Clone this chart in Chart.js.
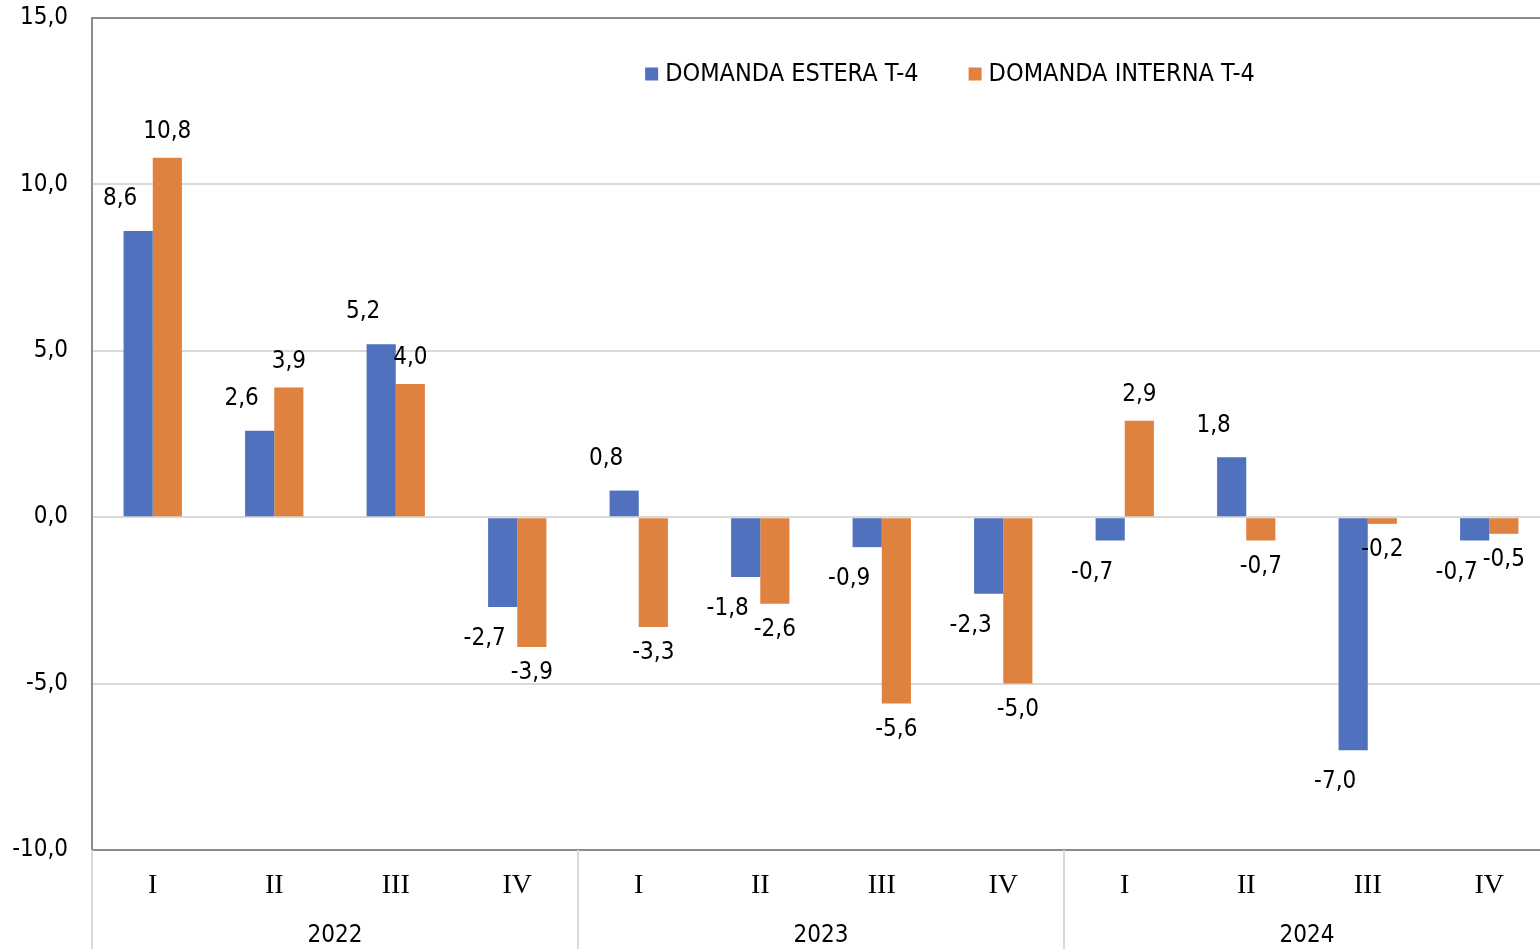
<!DOCTYPE html>
<html>
<head>
<meta charset="utf-8">
<script src="https://cdn.jsdelivr.net/npm/chart.js@4"></script>
<style>
html,body{margin:0;padding:0;background:#fff;overflow:hidden;}
#wrap{width:1552px;height:949px;position:relative;}
</style>
</head>
<body>
<div id="wrap"><canvas id="c" width="1552" height="949"></canvas></div>
<script>
const quarters = ["I","II","III","IV","I","II","III","IV","I","II","III","IV"];
const years = ["2022","2023","2024"];
const domandaEstera = [8.6, 2.6, 5.2, -2.7, 0.8, -1.8, -0.9, -2.3, -0.7, 1.8, -7.0, -0.7];
const domandaInterna = [10.8, 3.9, 4.0, -3.9, -3.3, -2.6, -5.6, -5.0, 2.9, -0.7, -0.2, -0.5];
const seriesNames = ["DOMANDA ESTERA T-4", "DOMANDA INTERNA T-4"];
const yTicks = [-10, -5, 0, 5, 10, 15];

const SANS = '"DejaVu Sans Condensed", "Liberation Sans", Arial, sans-serif';
const SERIF = '"Liberation Serif", "Times New Roman", serif';
const BLUE = '#4F71BE';
const ORANGE = '#E0823F';
const fmt = v => v.toFixed(1).replace('.', ',');

const labelPlugin = {
  id: 'valueLabels',
  afterDatasetsDraw(chart) {
    const ctx = chart.ctx;
    ctx.save();
    ctx.font = '24px ' + SANS;
    ctx.fillStyle = '#000';
    ctx.textAlign = 'center';
    ctx.textBaseline = 'middle';
    chart.data.datasets.forEach((ds, i) => {
      const meta = chart.getDatasetMeta(i);
      meta.data.forEach((el, j) => {
        const v = ds.data[j];
        const dx = i === 0 ? -18 : 0;
        const off = i === 0 ? 32 : 26;
        const y = v >= 0 ? el.y - off : el.y + off;
        ctx.fillText(fmt(v), el.x + dx, y);
      });
    });
    ctx.restore();
  }
};

const legendPlugin = {
  id: 'inLegend',
  afterDraw(chart) {
    const ctx = chart.ctx;
    ctx.save();
    ctx.font = '25px ' + SANS;
    ctx.textBaseline = 'middle';
    ctx.textAlign = 'left';
    const colors = [BLUE, ORANGE];
    const sq = 13, gap = 7, between = 50;
    const widths = seriesNames.map(t => ctx.measureText(t).width);
    const total = widths.reduce((a, w) => a + sq + gap + w, 0) + between;
    let x = 950 - total / 2;
    const y = 74;
    seriesNames.forEach((t, i) => {
      ctx.fillStyle = colors[i];
      ctx.fillRect(x, y - sq / 2, sq, sq);
      ctx.fillStyle = '#000';
      ctx.fillText(t, x + sq + gap, y);
      x += sq + gap + widths[i] + between;
    });
    ctx.restore();
  }
};

const groupPlugin = {
  id: 'yearGroups',
  afterDraw(chart) {
    const ctx = chart.ctx;
    const area = chart.chartArea;
    const n = quarters.length;
    const per = n / years.length;
    const step = (area.right - area.left) / n;
    ctx.save();
    ctx.strokeStyle = '#d9d9d9';
    ctx.lineWidth = 2;
    for (let g = 0; g < years.length; g++) {
      const x0 = area.left + g * per * step;
      ctx.beginPath();
      ctx.moveTo(x0, area.bottom);
      ctx.lineTo(x0, chart.height);
      ctx.stroke();
    }
    ctx.font = '24px ' + SANS;
    ctx.fillStyle = '#000';
    ctx.textAlign = 'center';
    ctx.textBaseline = 'middle';
    years.forEach((yr, g) => {
      const cx = area.left + (g * per + per / 2) * step;
      ctx.fillText(yr, cx, 936);
    });
    ctx.restore();
  }
};

new Chart(document.getElementById('c'), {
  type: 'bar',
  data: {
    labels: quarters,
    datasets: [
      { label: seriesNames[0], data: domandaEstera, backgroundColor: BLUE, borderWidth: 0 },
      { label: seriesNames[1], data: domandaInterna, backgroundColor: ORANGE, borderWidth: 0 }
    ]
  },
  options: {
    responsive: false,
    animation: false,
    devicePixelRatio: 1,
    layout: { padding: { top: 18, right: 2, left: 0, bottom: 0 } },
    datasets: { bar: { categoryPercentage: 0.48, barPercentage: 1.0 } },
    plugins: { legend: { display: false }, tooltip: { enabled: false } },
    scales: {
      x: {
        grid: { display: false },
        border: { display: false },
        ticks: { color: '#000', font: { family: SERIF, size: 28 }, padding: 11, maxRotation: 0, autoSkip: false },
        afterFit(s) { s.height = 99; }
      },
      y: {
        min: -10, max: 15,
        afterBuildTicks(s) { s.ticks = yTicks.map(v => ({ value: v })); },
        ticks: { color: '#000', font: { family: SANS, size: 24 }, padding: 24, callback: v => fmt(v) },
        grid: {
          drawTicks: false,
          lineWidth: 2,
          color: c => (c.tick && (c.tick.value === 15 || c.tick.value === -10)) ? '#8c8c8c' : '#d9d9d9'
        },
        border: { display: true, color: '#8c8c8c', width: 2 },
        afterFit(s) { s.width = 92; s.paddingTop = 0; s.paddingBottom = 0; }
      }
    }
  },
  plugins: [labelPlugin, legendPlugin, groupPlugin]
});
</script>
</body>
</html>
